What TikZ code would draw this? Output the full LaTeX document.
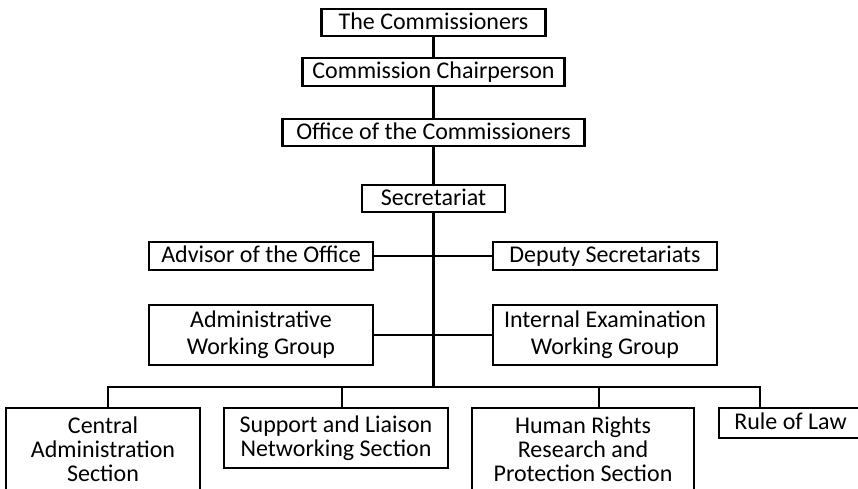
\documentclass[tikz,border=0pt]{standalone}
\usepackage{fontspec}
\setmainfont{Carlito}
\tikzset{
  unit/.style={draw, line width=2.8pt, inner sep=0pt, align=center,
    font=\fontsize{24}{27}\selectfont},
  oneline/.style={unit, text height=18, text depth=5},
  lowunit/.style={unit, font=\fontsize{24}{24}\selectfont},
  link/.style={line width=2.8pt}
}
\begin{document}
\begin{tikzpicture}[x=1pt,y=-1pt]
		\useasboundingbox (0,0) rectangle (858,488);
		\clip (0,0) rectangle (858,488);
		\node (a1) [oneline, minimum width=224, minimum height=27] at (433.5,22.5) {The Commissioners};
		\node (a2) [oneline, minimum width=262, minimum height=28] at (433.5,72) {Commission Chairperson};
		\node (a3) [oneline, minimum width=302, minimum height=27] at (433.5,132.5) {Office of the Commissioners};
		\node (a4) [oneline, minimum width=143, minimum height=27] at (433.5,198.5) {Secretariat};
		\node (a5) [oneline, minimum width=224, minimum height=28] at (261,256) {Advisor of the Office};
		\node (a6) [oneline, minimum width=224, minimum height=28] at (605,256) {Deputy Secretariats};
		\node (a7) [unit, minimum width=224, minimum height=60] at (261,335) {Administrative\\Working Group};
		\node (a8) [unit, minimum width=224, minimum height=60] at (605,335) {Internal Examination\\Working Group};
		\node (a9) [lowunit, minimum width=194, minimum height=82] at (103,449) {Central\\Administration\\Section};
		\node (a10) [lowunit, minimum width=224, minimum height=60] at (336,438) {Support and Liaison\\Networking Section};
		\node (a11) [lowunit, minimum width=222, minimum height=82] at (583,449) {Human Rights\\Research and\\Protection Section};
		\node (a12) [oneline, minimum width=143, minimum height=30] at (790.5,423) {Rule of Law};
		\coordinate (m) at (433.5,387);
		\coordinate (b1) at (108,387);
		\coordinate (b2) at (342,387);
		\coordinate (b3) at (599,387);
		\coordinate (b4) at (760,387);
		\draw [link] (a1) -- (a2);
		\draw [link] (a2) -- (a3);
		\draw [link] (a3) -- (a4);
		\draw [link] (a4) -- (m);
		\draw [link] (a5) -- (a6);
		\draw [link] (a7) -- (a8);
		\draw [link] (a9.north -| b1) -- (b1) -- (b4) -- (a12.north -| b4);
		\draw [link] (b2) -- (a10.north -| b2);
		\draw [link] (b3) -- (a11.north -| b3);
		\end{tikzpicture}
\end{document}
